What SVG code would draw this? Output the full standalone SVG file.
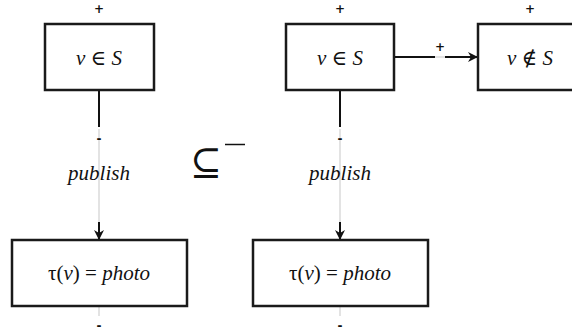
<svg xmlns="http://www.w3.org/2000/svg" width="572" height="333" viewBox="0 0 572 333">
<style>
.box{fill:#fff;stroke:#1a1a1a;stroke-width:2.5}
.m{font-family:'Liberation Serif', 'DejaVu Serif', serif;font-size:21px;fill:#111;text-anchor:middle}
.i{font-style:italic}
.sign{font-family:'DejaVu Sans', sans-serif;font-size:12px;font-weight:bold;fill:#111;text-anchor:middle}
.edge{stroke:#111;stroke-width:2;fill:none}
.faint{stroke:#e3e3e3;stroke-width:2;fill:none}
</style>
<defs>
<marker id="ah" viewBox="0 0 10 10" refX="9" refY="5" markerWidth="10" markerHeight="10" orient="auto" markerUnits="userSpaceOnUse">
<path d="M0,0 L10,5 L0,10 L3,5 Z" fill="#111"/>
</marker>
</defs>
<rect width="572" height="333" fill="#fff"/>
<g id="connectors">
<line class="edge" x1="99" y1="90" x2="99" y2="127"/>
<line class="faint" x1="99" y1="129" x2="99" y2="222"/>
<line class="edge" x1="99" y1="222" x2="99" y2="239" marker-end="url(#ah)"/>
<text class="sign" x="99" y="143">-</text>
<text class="m i" x="99" y="180" font-size="18">publish</text>
<line class="edge" x1="340" y1="90" x2="340" y2="127"/>
<line class="faint" x1="340" y1="129" x2="340" y2="222"/>
<line class="edge" x1="340" y1="222" x2="340" y2="239" marker-end="url(#ah)"/>
<text class="sign" x="340" y="143">-</text>
<text class="m i" x="340" y="180" font-size="18">publish</text>
<line class="edge" x1="394" y1="57" x2="435" y2="57"/>
<line class="faint" x1="435" y1="57" x2="445" y2="57"/>
<line class="edge" x1="445" y1="57" x2="477" y2="57" marker-end="url(#ah)"/>
<text class="sign" x="440" y="51">+</text>
<line class="faint" x1="99" y1="307" x2="99" y2="316" stroke-width="1"/>
<line class="faint" x1="340" y1="307" x2="340" y2="316" stroke-width="1"/>
</g>
<g id="n1">
<rect class="box" x="45" y="24" width="109" height="66"/>
<text class="m" x="99" y="65"><tspan class="i">v</tspan> ∈ <tspan class="i">S</tspan></text>
<text class="sign" x="99" y="13">+</text>
</g>
<g id="n2">
<rect class="box" x="286" y="24" width="108" height="66"/>
<text class="m" x="340" y="65"><tspan class="i">v</tspan> ∈ <tspan class="i">S</tspan></text>
<text class="sign" x="340" y="13">+</text>
</g>
<g id="n3">
<rect class="box" x="478" y="24" width="108" height="66"/>
<text class="m" x="530" y="65"><tspan class="i">v</tspan> ∉ <tspan class="i">S</tspan></text>
<text class="sign" x="530" y="13">+</text>
</g>
<g id="n4">
<rect class="box" x="12" y="240" width="175" height="66"/>
<text class="m" x="99" y="280">τ(<tspan class="i">v</tspan>) = <tspan class="i">photo</tspan></text>
<text class="sign" x="99" y="330">-</text>
</g>
<g id="n5">
<rect class="box" x="253" y="240" width="175" height="66"/>
<text class="m" x="340" y="280">τ(<tspan class="i">v</tspan>) = <tspan class="i">photo</tspan></text>
<text class="sign" x="340" y="330">-</text>
</g>
<g id="rel">
<text x="190" y="175" font-family="'DejaVu Serif', serif" font-size="38" fill="#111">⊆</text>
<line x1="225" y1="144.5" x2="245" y2="144.5" stroke="#111" stroke-width="1.5"/>
</g>
</svg>
